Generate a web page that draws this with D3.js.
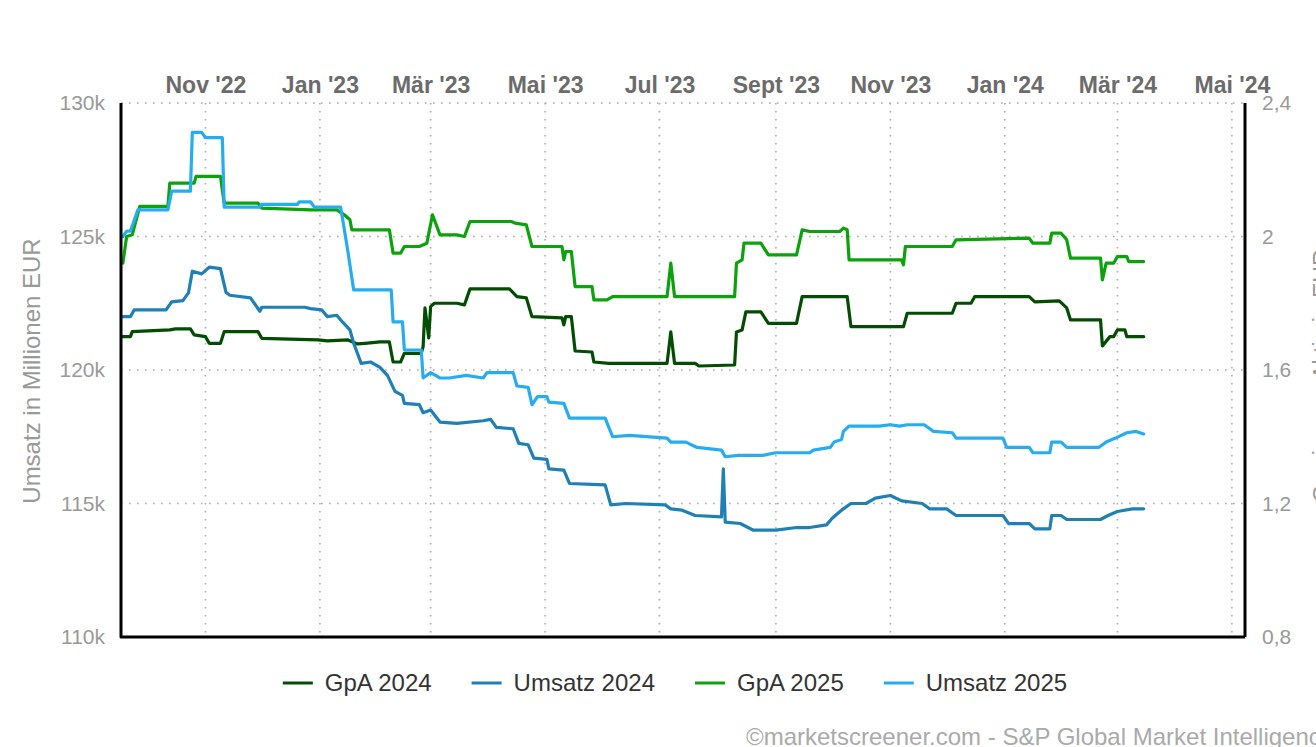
<!DOCTYPE html>
<html>
<head>
<meta charset="utf-8">
<script src="https://cdn.jsdelivr.net/npm/d3@7"></script>
<style>
  body { margin: 0; background: #fff; overflow: hidden; }
  svg { display: block; font-family: "Liberation Sans", Arial, sans-serif; }
</style>
</head>
<body>
<div id="wrapper"></div>
<script>
// data (dates, Umsatz in k EUR, GpA in EUR)
const gpa2024 = [
  ["2022-09-18", 1.70], ["2022-09-22", 1.70], ["2022-09-23", 1.715], ["2022-10-13", 1.72],
  ["2022-10-16", 1.723], ["2022-10-24", 1.723], ["2022-10-26", 1.705], ["2022-11-01", 1.70],
  ["2022-11-03", 1.68], ["2022-11-09", 1.68], ["2022-11-11", 1.715], ["2022-11-29", 1.715],
  ["2022-12-01", 1.695], ["2022-12-31", 1.69], ["2023-01-05", 1.687], ["2023-01-16", 1.69],
  ["2023-01-21", 1.678], ["2023-01-25", 1.68], ["2023-02-02", 1.684], ["2023-02-07", 1.684],
  ["2023-02-09", 1.624], ["2023-02-13", 1.624], ["2023-02-15", 1.65], ["2023-02-24", 1.65],
  ["2023-02-25", 1.67], ["2023-02-26", 1.786], ["2023-02-28", 1.696], ["2023-03-01", 1.79],
  ["2023-03-03", 1.80], ["2023-03-15", 1.80], ["2023-03-19", 1.795], ["2023-03-22", 1.843],
  ["2023-04-12", 1.843], ["2023-04-16", 1.82], ["2023-04-21", 1.816], ["2023-04-24", 1.76],
  ["2023-05-10", 1.756], ["2023-05-11", 1.735], ["2023-05-12", 1.76], ["2023-05-15", 1.76],
  ["2023-05-17", 1.657], ["2023-05-26", 1.654], ["2023-05-27", 1.624], ["2023-06-04", 1.62],
  ["2023-07-05", 1.62], ["2023-07-07", 1.714], ["2023-07-09", 1.62], ["2023-07-20", 1.62],
  ["2023-07-22", 1.612], ["2023-08-10", 1.615], ["2023-08-11", 1.714], ["2023-08-14", 1.72],
  ["2023-08-16", 1.774], ["2023-08-24", 1.774], ["2023-08-28", 1.74], ["2023-09-12", 1.74],
  ["2023-09-15", 1.82], ["2023-10-09", 1.82], ["2023-10-11", 1.73], ["2023-11-08", 1.73],
  ["2023-11-10", 1.77], ["2023-12-04", 1.77], ["2023-12-06", 1.80], ["2023-12-14", 1.80],
  ["2023-12-16", 1.82], ["2024-01-14", 1.82], ["2024-01-17", 1.804], ["2024-01-30", 1.807],
  ["2024-02-03", 1.786], ["2024-02-05", 1.75], ["2024-02-21", 1.75], ["2024-02-22", 1.672],
  ["2024-02-26", 1.70], ["2024-02-28", 1.70], ["2024-03-01", 1.72], ["2024-03-05", 1.72],
  ["2024-03-06", 1.70], ["2024-03-15", 1.70]
];

const umsatz2024 = [
  ["2022-09-18", 122.0], ["2022-09-22", 122.0], ["2022-09-24", 122.25], ["2022-10-11", 122.25],
  ["2022-10-14", 122.55], ["2022-10-20", 122.6], ["2022-10-23", 122.9], ["2022-10-25", 123.7],
  ["2022-10-30", 123.6], ["2022-11-03", 123.85], ["2022-11-09", 123.8], ["2022-11-12", 122.9],
  ["2022-11-14", 122.8], ["2022-11-25", 122.7], ["2022-11-27", 122.5], ["2022-11-30", 122.2],
  ["2022-12-01", 122.35], ["2022-12-24", 122.35], ["2022-12-27", 122.3], ["2023-01-02", 122.25],
  ["2023-01-05", 122.0], ["2023-01-10", 122.05], ["2023-01-13", 121.8], ["2023-01-17", 121.5],
  ["2023-01-19", 121.0], ["2023-01-23", 120.25], ["2023-01-28", 120.3], ["2023-02-02", 120.1],
  ["2023-02-06", 119.8], ["2023-02-10", 119.2], ["2023-02-14", 119.05], ["2023-02-15", 118.75],
  ["2023-02-23", 118.7], ["2023-02-25", 118.4], ["2023-03-01", 118.5], ["2023-03-06", 118.05],
  ["2023-03-15", 118.0], ["2023-03-29", 118.1], ["2023-04-02", 118.15], ["2023-04-05", 117.85],
  ["2023-04-14", 117.8], ["2023-04-17", 117.25], ["2023-04-22", 117.2], ["2023-04-25", 116.7],
  ["2023-05-02", 116.65], ["2023-05-03", 116.3], ["2023-05-11", 116.25], ["2023-05-14", 115.75],
  ["2023-06-02", 115.7], ["2023-06-05", 114.95], ["2023-06-13", 115.0], ["2023-07-04", 114.95],
  ["2023-07-07", 114.8], ["2023-07-13", 114.75], ["2023-07-20", 114.55], ["2023-08-03", 114.5],
  ["2023-08-04", 116.3], ["2023-08-05", 114.3], ["2023-08-13", 114.25], ["2023-08-20", 114.0],
  ["2023-09-01", 114.0], ["2023-09-12", 114.1], ["2023-09-19", 114.1], ["2023-09-28", 114.2],
  ["2023-10-01", 114.45], ["2023-10-06", 114.75], ["2023-10-11", 115.0], ["2023-10-19", 115.0],
  ["2023-10-24", 115.2], ["2023-11-01", 115.3], ["2023-11-07", 115.1], ["2023-11-18", 115.0],
  ["2023-11-22", 114.8], ["2023-12-01", 114.8], ["2023-12-06", 114.55], ["2023-12-31", 114.55],
  ["2024-01-03", 114.25], ["2024-01-14", 114.25], ["2024-01-17", 114.05], ["2024-01-25", 114.05],
  ["2024-01-26", 114.55], ["2024-01-31", 114.55], ["2024-02-03", 114.4], ["2024-02-21", 114.4],
  ["2024-02-25", 114.55], ["2024-03-01", 114.7], ["2024-03-09", 114.8], ["2024-03-15", 114.8]
];

const gpa2025 = [
  ["2022-09-18", 1.92], ["2022-09-20", 2.0], ["2022-09-23", 2.005], ["2022-09-27", 2.09],
  ["2022-10-12", 2.09], ["2022-10-13", 2.16], ["2022-10-26", 2.16], ["2022-10-27", 2.18],
  ["2022-11-09", 2.18], ["2022-11-11", 2.10], ["2022-11-29", 2.10], ["2022-12-01", 2.085],
  ["2022-12-27", 2.08], ["2023-01-10", 2.08], ["2023-01-14", 2.065], ["2023-01-17", 2.05],
  ["2023-01-18", 2.02], ["2023-02-07", 2.02], ["2023-02-09", 1.95], ["2023-02-13", 1.95],
  ["2023-02-15", 1.97], ["2023-02-23", 1.97], ["2023-02-27", 1.98], ["2023-03-02", 2.065],
  ["2023-03-06", 2.005], ["2023-03-15", 2.005], ["2023-03-19", 2.0], ["2023-03-22", 2.045],
  ["2023-04-13", 2.045], ["2023-04-15", 2.04], ["2023-04-21", 2.035], ["2023-04-24", 1.97],
  ["2023-05-10", 1.97], ["2023-05-11", 1.93], ["2023-05-12", 1.955], ["2023-05-15", 1.955],
  ["2023-05-17", 1.85], ["2023-05-26", 1.85], ["2023-05-27", 1.81], ["2023-06-03", 1.81],
  ["2023-06-06", 1.82], ["2023-07-05", 1.82], ["2023-07-07", 1.92], ["2023-07-09", 1.82],
  ["2023-08-10", 1.82], ["2023-08-11", 1.92], ["2023-08-14", 1.93], ["2023-08-15", 1.98],
  ["2023-08-24", 1.98], ["2023-08-28", 1.945], ["2023-09-12", 1.945], ["2023-09-15", 2.02],
  ["2023-09-19", 2.015], ["2023-10-05", 2.015], ["2023-10-07", 2.025], ["2023-10-09", 2.02],
  ["2023-10-10", 1.93], ["2023-11-07", 1.93], ["2023-11-08", 1.915], ["2023-11-09", 1.97],
  ["2023-12-04", 1.97], ["2023-12-06", 1.99], ["2024-01-14", 1.995], ["2024-01-16", 1.98],
  ["2024-01-25", 1.98], ["2024-01-26", 2.01], ["2024-01-31", 2.01], ["2024-02-03", 1.99],
  ["2024-02-05", 1.935], ["2024-02-21", 1.935], ["2024-02-22", 1.87], ["2024-02-24", 1.92],
  ["2024-02-28", 1.92], ["2024-03-01", 1.94], ["2024-03-06", 1.94], ["2024-03-07", 1.925],
  ["2024-03-15", 1.925]
];

const umsatz2025 = [
  ["2022-09-18", 125.0], ["2022-09-20", 125.2], ["2022-09-22", 125.2], ["2022-09-26", 126.0],
  ["2022-10-12", 126.0], ["2022-10-14", 126.7], ["2022-10-24", 126.7], ["2022-10-25", 128.9],
  ["2022-10-30", 128.9], ["2022-11-01", 128.7], ["2022-11-10", 128.7], ["2022-11-11", 126.1],
  ["2022-11-30", 126.1], ["2022-12-01", 126.2], ["2022-12-20", 126.2], ["2022-12-21", 126.3],
  ["2022-12-27", 126.3], ["2022-12-29", 126.1], ["2023-01-12", 126.1], ["2023-01-13", 125.7],
  ["2023-01-16", 124.4], ["2023-01-19", 123.0], ["2023-02-08", 123.0], ["2023-02-09", 121.8],
  ["2023-02-14", 121.8], ["2023-02-15", 120.75], ["2023-02-24", 120.75], ["2023-02-25", 119.7],
  ["2023-03-01", 119.9], ["2023-03-06", 119.7], ["2023-03-11", 119.7], ["2023-03-20", 119.8],
  ["2023-03-29", 119.7], ["2023-03-31", 119.9], ["2023-04-14", 119.9], ["2023-04-16", 119.4],
  ["2023-04-22", 119.35], ["2023-04-24", 118.7], ["2023-04-27", 119.0], ["2023-05-02", 119.0],
  ["2023-05-03", 118.8], ["2023-05-11", 118.75], ["2023-05-14", 118.2], ["2023-06-02", 118.2],
  ["2023-06-06", 117.5], ["2023-06-15", 117.55], ["2023-07-05", 117.45], ["2023-07-07", 117.3],
  ["2023-07-15", 117.3], ["2023-07-21", 117.1], ["2023-08-03", 117.0], ["2023-08-05", 116.75],
  ["2023-08-12", 116.8], ["2023-08-25", 116.8], ["2023-09-01", 116.9], ["2023-09-19", 116.9],
  ["2023-09-21", 117.0], ["2023-09-30", 117.1], ["2023-10-02", 117.3], ["2023-10-06", 117.4],
  ["2023-10-07", 117.7], ["2023-10-10", 117.9], ["2023-10-26", 117.9], ["2023-11-01", 117.95],
  ["2023-11-06", 117.9], ["2023-11-10", 117.95], ["2023-11-19", 117.95], ["2023-11-24", 117.7],
  ["2023-12-04", 117.65], ["2023-12-06", 117.45], ["2023-12-31", 117.45], ["2024-01-02", 117.1],
  ["2024-01-14", 117.1], ["2024-01-16", 116.9], ["2024-01-25", 116.9], ["2024-01-26", 117.3],
  ["2024-01-31", 117.3], ["2024-02-03", 117.1], ["2024-02-20", 117.1], ["2024-02-24", 117.3],
  ["2024-02-29", 117.45], ["2024-03-06", 117.65], ["2024-03-11", 117.7], ["2024-03-15", 117.6]
];

const umsatzTicks = [110, 115, 120, 125, 130];
const gpaTicks = [0.8, 1.2, 1.6, 2.0, 2.4];
const monthNames = ["Jan", "Feb", "Mär", "Apr", "Mai", "Jun", "Jul", "Aug", "Sept", "Okt", "Nov", "Dez"];
const seriesNames = ["GpA 2024", "Umsatz 2024", "GpA 2025", "Umsatz 2025"];
const seriesColors = ["#024d02", "#1f80b6", "#0ca20c", "#27adef"];

function drawChart() {
  const width = 1316;
  const height = 747;
  const plot = { left: 121, right: 1245, top: 103, bottom: 637 };
  const parse = d3.timeParse("%Y-%m-%d");

  const svg = d3.select("#wrapper").append("svg")
    .attr("width", width)
    .attr("height", height);

  const x = d3.scaleTime()
    .domain([parse("2022-09-17"), parse("2024-05-08")])
    .range([plot.left, plot.right]);
  const yLeft = d3.scaleLinear().domain([110, 130]).range([plot.bottom, plot.top]);
  const yRight = d3.scaleLinear().domain([0.8, 2.4]).range([plot.bottom, plot.top]);

  const monthTicks = x.ticks(d3.timeMonth.every(2));

  // grid
  const grid = svg.append("g").attr("stroke", "#aaa").attr("stroke-width", 1.6)
    .attr("stroke-dasharray", "1.6,6.4");
  grid.selectAll(".hgrid")
    .data(umsatzTicks.filter(d => d > 110))
    .join("line")
    .attr("x1", plot.left).attr("x2", plot.right)
    .attr("y1", d => yLeft(d)).attr("y2", d => yLeft(d));
  grid.selectAll(".vgrid")
    .data(monthTicks)
    .join("line")
    .attr("x1", d => x(d)).attr("x2", d => x(d))
    .attr("y1", plot.top).attr("y2", plot.bottom);

  // top axis labels
  const topAxis = d3.axisTop(x)
    .tickValues(monthTicks)
    .tickSize(0)
    .tickPadding(0)
    .tickFormat(d => `${monthNames[d.getMonth()]} '${String(d.getFullYear()).slice(2)}`);
  const gTop = svg.append("g").attr("transform", `translate(0, 93)`).call(topAxis);
  gTop.select(".domain").remove();
  gTop.selectAll("text")
    .attr("font-family", "Liberation Sans, Arial, sans-serif")
    .attr("font-size", 23)
    .attr("font-weight", "bold")
    .attr("fill", "#6b6b6b")
    .attr("dy", 0);

  // left axis
  const leftAxis = d3.axisLeft(yLeft).tickValues(umsatzTicks).tickSize(0).tickPadding(16)
    .tickFormat(d => d + "k");
  const gLeft = svg.append("g").attr("transform", `translate(${plot.left}, 0)`).call(leftAxis);
  gLeft.select(".domain").remove();
  gLeft.selectAll("text")
    .attr("font-family", "Liberation Sans, Arial, sans-serif")
    .attr("font-size", 21).attr("fill", "#999");

  // right axis
  const rightAxis = d3.axisRight(yRight).tickValues(gpaTicks).tickSize(0).tickPadding(17)
    .tickFormat(d => String(d3.format("~g")(d)).replace(".", ","));
  const gRight = svg.append("g").attr("transform", `translate(${plot.right}, 0)`).call(rightAxis);
  gRight.select(".domain").remove();
  gRight.selectAll("text")
    .attr("font-family", "Liberation Sans, Arial, sans-serif")
    .attr("font-size", 21).attr("fill", "#999");

  // axis titles (the right one is cut by the picture's edge, as in the original)
  svg.append("text")
    .attr("transform", `translate(40, 371) rotate(-90)`)
    .attr("text-anchor", "middle")
    .attr("font-size", 24)
    .attr("fill", "#999")
    .text("Umsatz in Millionen EUR");
  svg.append("text")
    .attr("transform", `translate(1330, 376) rotate(-90)`)
    .attr("text-anchor", "middle")
    .attr("font-size", 23)
    .attr("fill", "#999")
    .text("Gewinn pro Aktie in EUR");

  // series
  const allSeries = [
    { data: gpa2024, scale: yRight },
    { data: umsatz2024, scale: yLeft },
    { data: gpa2025, scale: yRight },
    { data: umsatz2025, scale: yLeft }
  ];
  allSeries.forEach((s, i) => {
    const line = d3.line()
      .x(d => x(parse(d[0])))
      .y(d => s.scale(d[1]));
    svg.append("path")
      .datum(s.data)
      .attr("fill", "none")
      .attr("stroke", seriesColors[i])
      .attr("stroke-width", 3.2)
      .attr("stroke-linejoin", "round")
      .attr("stroke-linecap", "round")
      .attr("d", line);
  });

  // axis lines
  svg.append("path")
    .attr("d", `M${plot.left},${plot.top}V${plot.bottom}H${plot.right}`)
    .attr("fill", "none").attr("stroke", "#000").attr("stroke-width", 3)
    .attr("stroke-linejoin", "round");
  svg.append("line")
    .attr("x1", plot.right).attr("x2", plot.right)
    .attr("y1", plot.top).attr("y2", plot.bottom)
    .attr("stroke", "#000").attr("stroke-width", 3);

  // legend
  const legend = svg.append("g");
  const items = legend.selectAll("g")
    .data(seriesNames)
    .join("g");
  items.append("line")
    .attr("x1", 0).attr("x2", 30).attr("y1", 0).attr("y2", 0)
    .attr("stroke", (d, i) => seriesColors[i]).attr("stroke-width", 3);
  items.append("text")
    .attr("x", 42).attr("y", 8)
    .attr("font-size", 24)
    .attr("fill", "#333")
    .text(d => d);
  let offset = 0;
  const itemGap = 40;
  const widths = [];
  items.each(function() {
    const w = 42 + d3.select(this).select("text").node().getComputedTextLength();
    widths.push(w);
  });
  const total = d3.sum(widths) + itemGap * (widths.length - 1);
  const startX = 675 - total / 2;
  items.attr("transform", (d, i) => {
    const t = `translate(${startX + offset}, 683)`;
    offset += widths[i] + itemGap;
    return t;
  });

  // credit (cut by the right edge, as in the original)
  svg.append("text")
    .attr("x", 746).attr("y", 745)
    .attr("font-size", 24)
    .attr("fill", "#aaa")
    .text("©marketscreener.com - S&P Global Market Intelligence");
}
drawChart();
</script>
</body>
</html>
